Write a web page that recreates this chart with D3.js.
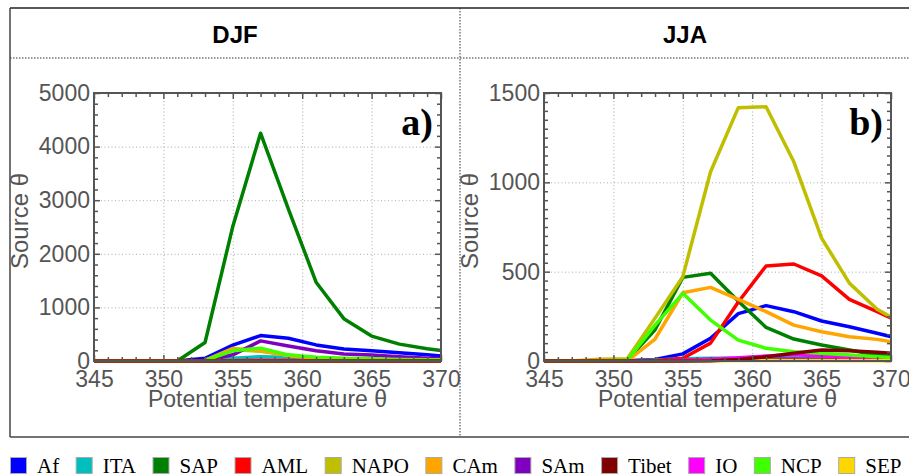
<!DOCTYPE html>
<html>
<head>
<meta charset="utf-8">
<script src="https://cdn.jsdelivr.net/npm/d3@7"></script>
<style>
  html, body { margin: 0; padding: 0; background: #fff; }
  svg { display: block; }
</style>
</head>
<body>
<svg id="chart"></svg>
<script>
const width = 909
const height = 475

// potential temperature levels (K)
const theta = [345, 347, 349, 351, 353, 355, 357, 359, 361, 363, 365, 367, 369, 371]

const regions = ['Af', 'ITA', 'SAP', 'AML', 'NAPO', 'CAm', 'SAm', 'Tibet', 'IO', 'NCP', 'SEP']
const regionColors = ['#0000ff', '#00bfbf', '#008000', '#ff0000', '#bfbf00', '#ffa500',
  '#7f00bf', '#7f0000', '#ff00ff', '#40ff00', '#ffd700']

// DJF source, one row per region (same order as regions)
const djfSeries = [
  [0, 0, 0, 0, 50, 295, 475, 425, 300, 225, 190, 155, 115, 75],
  [0, 0, 0, 0, 5, 50, 80, 70, 50, 40, 30, 20, 15, 10],
  [0, 0, 0, 0, 345, 2510, 4250, 2840, 1470, 790, 465, 315, 230, 160],
  [0, 0, 0, 0, 0, 5, 10, 8, 5, 5, 3, 2, 2, 2],
  [0, 0, 0, 0, 10, 215, 180, 105, 60, 40, 30, 25, 20, 15],
  [0, 0, 0, 0, 10, 235, 200, 100, 50, 30, 20, 15, 10, 8],
  [0, 0, 0, 0, 5, 115, 375, 280, 190, 130, 110, 80, 50, 30],
  [0, 0, 0, 0, 0, 0, 0, 0, 0, 0, 0, 0, 0, 0],
  [0, 0, 0, 0, 0, 5, 10, 8, 5, 3, 2, 2, 1, 1],
  [0, 0, 0, 0, 10, 190, 240, 115, 70, 50, 40, 30, 25, 20],
  [0, 0, 0, 0, 0, 2, 2, 2, 2, 2, 1, 1, 1, 1]
]

// JJA source
const jjaSeries = [
  [0, 0, 0, 2, 8, 40, 127, 265, 310, 276, 224, 192, 155, 118],
  [0, 0, 0, 0, 5, 12, 15, 15, 15, 15, 12, 12, 10, 10],
  [0, 0, 0, 5, 175, 468, 491, 335, 188, 123, 90, 62, 34, 14],
  [0, 0, 0, 0, 2, 15, 100, 330, 532, 543, 476, 345, 276, 205],
  [0, 0, 10, 12, 240, 472, 1059, 1418, 1423, 1115, 688, 436, 290, 202],
  [0, 0, 0, 0, 123, 382, 412, 345, 276, 201, 164, 136, 121, 95],
  [0, 0, 0, 0, 2, 5, 8, 10, 10, 10, 8, 8, 6, 5],
  [0, 0, 0, 0, 0, 0, 2, 8, 24, 43, 62, 57, 49, 37],
  [0, 0, 0, 0, 0, 5, 10, 18, 28, 35, 28, 20, 15, 10],
  [0, 0, 0, 5, 201, 379, 229, 117, 71, 52, 43, 34, 24, 16],
  [0, 0, 0, 0, 0, 0, 2, 3, 3, 3, 3, 2, 2, 2]
]

const panels = [
  { season: 'DJF', tag: 'a)', series: djfSeries, yMax: 5000, yStep: 1000, yMinor: 200, left: 94, cx: 235 },
  { season: 'JJA', tag: 'b)', series: jjaSeries, yMax: 1500, yStep: 500, yMinor: 50, left: 544, cx: 685 }
]

const axisColor = '#555'
const sans = '"Liberation Sans", Arial, sans-serif'
const serif = '"Liberation Serif", "Times New Roman", serif'
const plotW = 347
const plotTop = 93
const plotBottom = 361

const svg = d3.select('#chart')
  .attr('width', width)
  .attr('height', height)
  .attr('viewBox', [0, 0, width, height])

// outer frame
const frame = svg.append('g').attr('fill', 'none')
frame.append('line').attr('x1', 10).attr('x2', width).attr('y1', 8).attr('y2', 8)
  .attr('stroke', '#222').attr('stroke-width', 1.5)
frame.append('line').attr('x1', 10).attr('x2', width).attr('y1', 437).attr('y2', 437)
  .attr('stroke', '#444').attr('stroke-width', 1.5)
frame.append('line').attr('x1', 10).attr('x2', 10).attr('y1', 8).attr('y2', 437)
  .attr('stroke', '#444').attr('stroke-width', 1.5)
frame.append('line').attr('x1', 10).attr('x2', width).attr('y1', 58).attr('y2', 58)
  .attr('stroke', '#333').attr('stroke-dasharray', '1.5,1.5')
frame.append('line').attr('x1', 460).attr('x2', 460).attr('y1', 8).attr('y2', 437)
  .attr('stroke', '#333').attr('stroke-dasharray', '1.5,1.5')

const line = d3.line()

panels.forEach((p, pi) => {
  const x = d3.scaleLinear().domain([345, 370]).range([p.left, p.left + plotW])
  const y = d3.scaleLinear().domain([0, p.yMax]).range([plotBottom, plotTop])

  const xMajor = d3.range(345, 371, 5)
  const xMinor = d3.range(345, 371, 1).filter(v => v % 5 !== 0)
  const yMajor = d3.range(0, p.yMax + 1, p.yStep)
  const yMinor = d3.range(0, p.yMax + 1, p.yMinor).filter(v => v % p.yStep !== 0)

  // season title
  svg.append('text')
    .attr('x', p.cx).attr('y', 43)
    .attr('text-anchor', 'middle')
    .style('font-family', sans).style('font-weight', 'bold').style('font-size', '24px')
    .attr('fill', '#000')
    .text(p.season)

  const g = svg.append('g')

  // dotted grid
  g.append('g')
    .attr('transform', `translate(0,${plotBottom})`)
    .call(d3.axisBottom(x).tickValues(xMajor.slice(1, -1)).tickSize(-(plotBottom - plotTop)).tickFormat(''))
    .call(s => s.select('.domain').remove())
    .call(s => s.selectAll('line').attr('stroke', '#aaa').attr('stroke-dasharray', '1,2.5'))
  g.append('g')
    .attr('transform', `translate(${p.left},0)`)
    .call(d3.axisLeft(y).tickValues(yMajor.slice(1, -1)).tickSize(-plotW).tickFormat(''))
    .call(s => s.select('.domain').remove())
    .call(s => s.selectAll('line').attr('stroke', '#aaa').attr('stroke-dasharray', '1,2.5'))

  // data lines
  const clipId = 'clip' + pi
  svg.append('clipPath').attr('id', clipId)
    .append('rect').attr('x', p.left).attr('y', plotTop - 2).attr('width', plotW).attr('height', plotBottom - plotTop + 4)

  const drawOrder = d3.range(regions.length).filter(i => regions[i] !== 'Tibet')
  drawOrder.push(regions.indexOf('Tibet'))

  g.append('g')
    .attr('clip-path', `url(#${clipId})`)
    .attr('fill', 'none')
    .attr('stroke-width', 3.5)
    .attr('stroke-linejoin', 'round')
    .selectAll('path')
    .data(drawOrder)
    .join('path')
    .attr('stroke', i => regionColors[i])
    .attr('d', i => line(theta.map((t, k) => [x(t), y(p.series[i][k])])))

  // ticks, all pointing inwards
  const styleAxis = s => {
    s.select('.domain').remove()
    s.selectAll('line').attr('stroke', axisColor).attr('stroke-width', 1.5)
    s.selectAll('text').attr('fill', axisColor).style('font-family', sans).style('font-size', '23px')
  }
  g.append('g').attr('transform', `translate(0,${plotBottom})`)
    .call(d3.axisBottom(x).tickValues(xMajor).tickSize(-6).tickPadding(10).tickFormat(d3.format('d')))
    .call(styleAxis)
  g.append('g').attr('transform', `translate(0,${plotBottom})`)
    .call(d3.axisBottom(x).tickValues(xMinor).tickSize(-4).tickFormat(''))
    .call(styleAxis)
  g.append('g').attr('transform', `translate(0,${plotTop})`)
    .call(d3.axisTop(x).tickValues(xMajor).tickSize(-6).tickFormat(''))
    .call(styleAxis)
  g.append('g').attr('transform', `translate(0,${plotTop})`)
    .call(d3.axisTop(x).tickValues(xMinor).tickSize(-4).tickFormat(''))
    .call(styleAxis)
  g.append('g').attr('transform', `translate(${p.left},0)`)
    .call(d3.axisLeft(y).tickValues(yMajor).tickSize(-6).tickPadding(4).tickFormat(d3.format('d')))
    .call(styleAxis)
  g.append('g').attr('transform', `translate(${p.left},0)`)
    .call(d3.axisLeft(y).tickValues(yMinor).tickSize(-4).tickFormat(''))
    .call(styleAxis)
  g.append('g').attr('transform', `translate(${p.left + plotW},0)`)
    .call(d3.axisRight(y).tickValues(yMajor).tickSize(-6).tickFormat(''))
    .call(styleAxis)
  g.append('g').attr('transform', `translate(${p.left + plotW},0)`)
    .call(d3.axisRight(y).tickValues(yMinor).tickSize(-4).tickFormat(''))
    .call(styleAxis)

  // plot box
  g.append('rect')
    .attr('x', p.left).attr('y', plotTop)
    .attr('width', plotW).attr('height', plotBottom - plotTop)
    .attr('fill', 'none').attr('stroke', axisColor).attr('stroke-width', 2)

  // axis titles
  g.append('text')
    .attr('x', p.left + plotW / 2).attr('y', 407)
    .attr('text-anchor', 'middle')
    .attr('fill', axisColor)
    .style('font-family', sans).style('font-size', '23px')
    .text('Potential temperature θ')
  g.append('text')
    .attr('transform', `translate(${p.left - 66},${(plotTop + plotBottom) / 2 - 6}) rotate(-90)`)
    .attr('text-anchor', 'middle')
    .attr('fill', axisColor)
    .style('font-family', sans).style('font-size', '24px')
    .text('Source θ')

  // panel tag
  g.append('text')
    .attr('x', p.left + plotW - 8).attr('y', 135)
    .attr('text-anchor', 'end')
    .style('font-family', serif).style('font-weight', 'bold').style('font-size', '38px')
    .attr('fill', '#000')
    .text(p.tag)
})

// legend along the bottom
const legend = svg.append('g').attr('transform', 'translate(0,466)')
let cursor = 10
regions.forEach((r, i) => {
  const item = legend.append('g').attr('transform', `translate(${cursor},0)`)
  item.append('rect')
    .attr('x', 0.5).attr('y', -8.5).attr('width', 16).attr('height', 16)
    .attr('fill', regionColors[i]).attr('stroke', '#aaa').attr('stroke-width', 1)
  const t = item.append('text')
    .attr('x', 27).attr('y', 7)
    .style('font-family', serif).style('font-size', '21px')
    .attr('fill', '#000')
    .text(r)
  cursor += 27 + t.node().getComputedTextLength() + 16.5
})
</script>
</body>
</html>
